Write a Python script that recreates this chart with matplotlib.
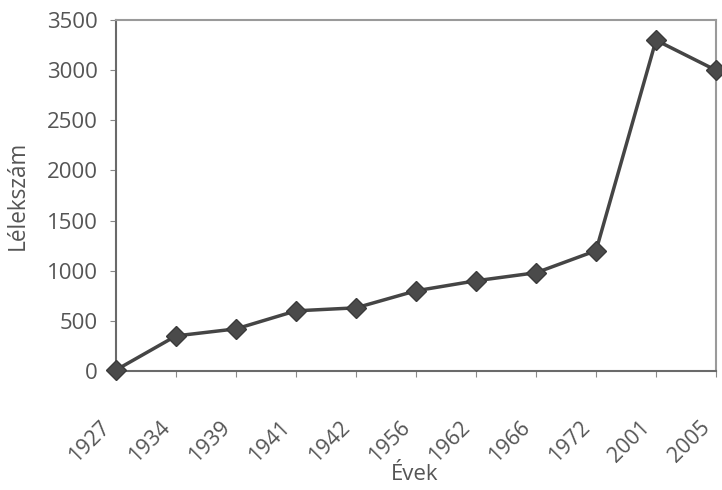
import matplotlib
matplotlib.use("Agg")
import matplotlib.pyplot as plt
import numpy as np

plt.rcParams["font.family"] = ["Open Sans", "DejaVu Sans"]

years = ["1927", "1934", "1939", "1941", "1942", "1956", "1962", "1966", "1972", "2001", "2005"]
population = [10, 350, 420, 600, 630, 800, 900, 980, 1200, 3300, 3000]

fig = plt.figure(figsize=(7.22, 4.90), dpi=100)
ax = fig.add_axes([0.1607, 0.2429, 0.831, 0.716])

x = np.arange(len(years))
ax.plot(x, population, color="#454545", linewidth=2.5, marker="D", markersize=10,
        markerfacecolor="#4a4a4a", markeredgecolor="#3a3a3a", clip_on=False, zorder=3)

ax.set_xlim(0, len(years) - 1)
ax.set_ylim(0, 3500)
ax.set_yticks(np.arange(0, 3501, 500))
ax.set_xticks(x)
ax.tick_params(axis="x", labelbottom=False, length=4, color="#888888")

# rotated year labels, sitting a little left of and below each tick like the original
for i, yr in enumerate(years):
    ax.annotate(yr, xy=(i, 0), xycoords=("data", "axes fraction"),
                xytext=(-12, -33), textcoords="offset points",
                rotation=45, ha="right", va="top", rotation_mode="anchor",
                fontsize=15.5, color="#555555", annotation_clip=False)

for s in ax.spines.values():
    s.set_color("#9a9a9a")
    s.set_linewidth(1.5)
ax.spines["bottom"].set_color("#6a6a6a")
ax.spines["left"].set_color("#6a6a6a")

ax.tick_params(axis="y", length=4, color="#888888", labelsize=16, labelcolor="#555555", pad=9)

ax.set_ylabel("Lélekszám", fontsize=16.3, color="#555555")
ax.yaxis.set_label_coords(-0.143, 0.5)
ax.set_xlabel("Évek", fontsize=16, color="#555555")
ax.xaxis.set_label_coords(0.498, -0.266)

fig.savefig("out.png", dpi=100)
